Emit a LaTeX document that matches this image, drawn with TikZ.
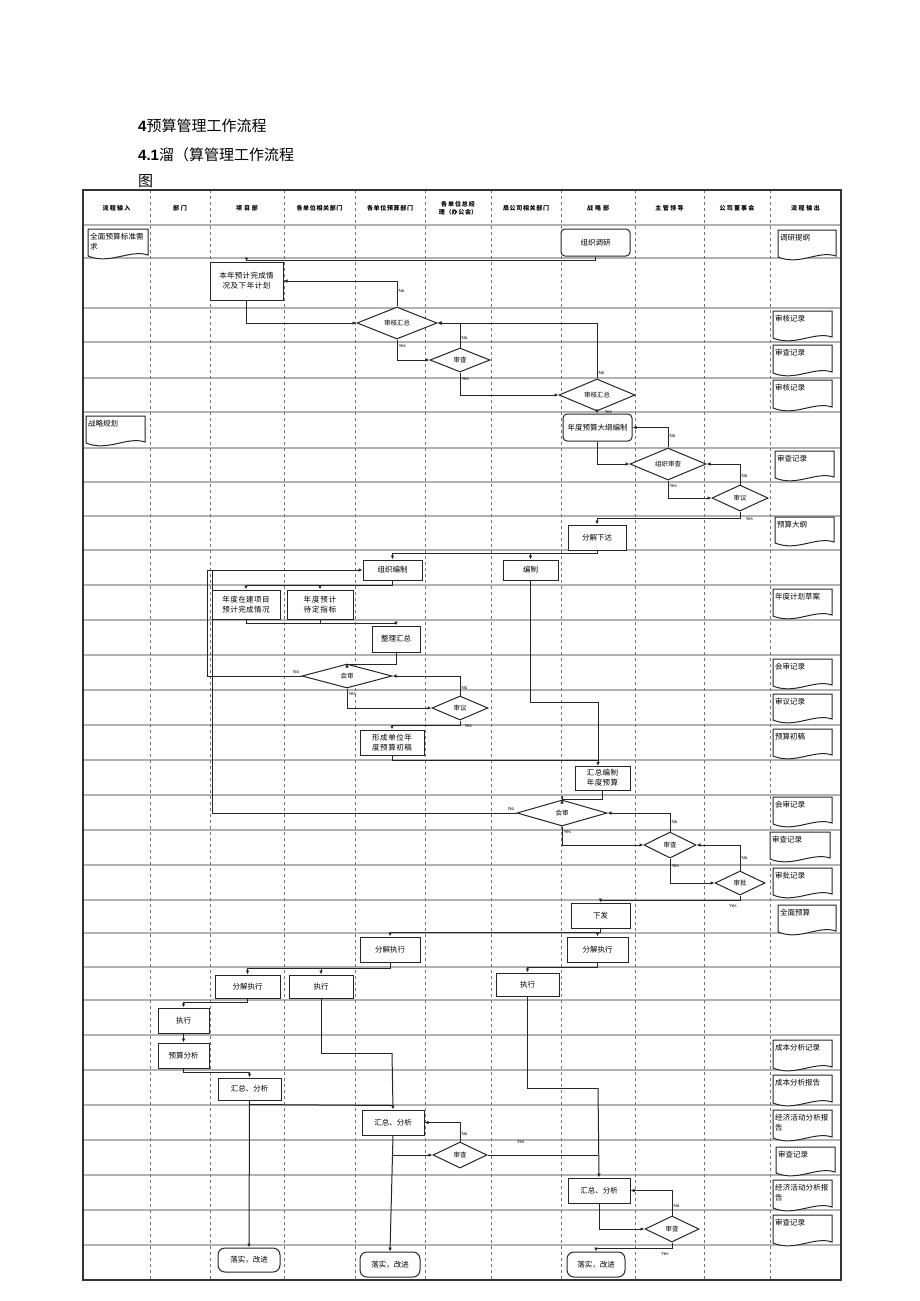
\documentclass[tikz,border=0pt]{standalone}
\usepackage{fontspec}
\setmainfont{Liberation Sans}
\newfontfamily\cjk{Noto Sans CJK SC}
\XeTeXlinebreaklocale "zh"
\XeTeXlinebreakskip=0pt plus 1pt
\usetikzlibrary{shapes.geometric,arrows.meta}
\tikzset{
 grid/.style={draw=black!30,line width=1.3pt},
 vgrid/.style={draw=black!55,dashed,line width=0.6pt},
 box/.style={draw=black!85,line width=1pt,fill=white,font=\cjk\fontsize{7.5}{10}\selectfont,align=center,inner sep=1pt},
 rbox/.style={box,rounded corners=4pt},
 dia/.style={draw=black!85,line width=1pt,fill=white,diamond,inner sep=0pt,font=\cjk\fontsize{6.5}{7}\selectfont},
 arr/.style={draw=black!85,line width=1pt,-{Latex[length=4pt,width=3.5pt]}},
 ln/.style={draw=black!85,line width=1pt},
 yn/.style={font=\fontsize{4.5}{5}\selectfont,inner sep=1pt},
 hd/.style={font=\cjk\bfseries\fontsize{6}{8}\selectfont,align=center},
 docst/.style={draw=black!85,line width=1pt,fill=white},
 doctext/.style={font=\cjk\fontsize{7.5}{10}\selectfont,align=left,inner sep=1pt},
}
\newcommand\docu[6]{%
 \draw[docst] (#2,#3) -- (#4,#3) -- (#4,#5-4) .. controls (#4-18,#5-10) and (#2+22,#5+6) .. (#2,#5-3) -- cycle;
 \pgfmathsetmacro\dw{#4-#2-4}%
 \node[doctext,anchor=north west,text width=\dw pt] (#1) at (#2+1,#3+3) {#6};}
\begin{document}
\begin{tikzpicture}[x=1pt,y=-1pt]
\useasboundingbox (0,0) rectangle (920,1301);
\fill[white] (0,0) rectangle (920,1301);
% title
\node[anchor=west,inner sep=0] (t1) at (138,126) {\fontsize{15}{18}\selectfont\bfseries 4\cjk\mdseries 预算管理工作流程};
\node[anchor=west,inner sep=0] (t2) at (138,155) {\fontsize{15}{18}\selectfont\bfseries 4.1\cjk\mdseries 溜（算管理工作流程};
\node[anchor=west,inner sep=0] (t3) at (138,181) {\fontsize{15}{18}\selectfont\cjk 图};
% grid
\foreach \y in {225,258,308,342,378,412,448,482,516,550,585,620,655,690,725,760,795,830,865,900,933,967,1000,1035,1070,1105,1140,1175,1210,1245}
  \draw[grid] (83,\y) -- (841,\y);
\foreach \x in {150,210,284,355,425,491,561,635,704,770}
  \draw[vgrid] (\x,190) -- (\x,1280);
\draw[black!80,line width=1.3pt] (83,190) rectangle (841,1280);
% headers
\foreach \x/\t/\w [count=\i] in {116.5/流程输入/60,180/部门/56,247/项目部/70,319.5/各单位相关部门/62,390/各单位预算部门/62,458/各单位总经理（办公会）/56,526/局公司相关部门/62,598/战略部/70,669.5/主管领导/64,737/公司董事会/62,805.5/流程输出/66}
  \node[hd,text width=\w pt] (h\i) at (\x,208) {\t};
% documents
\docu{in1}{88}{229}{148}{259}{全面预算标准需求}
\docu{in2}{86}{416}{145}{446}{战略规划}
\docu{o1}{778}{230}{836}{260}{调研提纲}
\docu{o2}{773}{311}{832}{341}{审核记录}
\docu{o3}{773}{345}{832}{376}{审查记录}
\docu{o4}{773}{380}{832}{411}{审核记录}
\docu{o5}{775}{451}{834}{481}{审查记录}
\docu{o6}{775}{517}{834}{546}{预算大纲}
\docu{o7}{773}{589}{832}{619}{年度计划草案}
\docu{o8}{773}{659}{832}{689}{会审记录}
\docu{o9}{773}{694}{832}{723}{审议记录}
\docu{o10}{773}{729}{832}{759}{预算初稿}
\docu{o11}{773}{797}{832}{827}{会审记录}
\docu{o12}{770}{832}{830}{862}{审查记录}
\docu{o13}{773}{868}{832}{898}{审批记录}
\docu{o14}{778}{905}{836}{935}{全面预算}
\docu{o15}{773}{1040}{832}{1071}{成本分析记录}
\docu{o16}{773}{1075}{832}{1106}{成本分析报告}
\docu{o17}{773}{1110}{832}{1141}{经济活动分析报告}
\docu{o18}{776}{1147}{835}{1176}{审查记录}
\docu{o19}{773}{1180}{832}{1211}{经济活动分析报告}
\docu{o20}{773}{1215}{832}{1246}{审查记录}
% nodes
\node[rbox,minimum width=69,minimum height=27] (zy) at (595.5,242.5) {组织调研};
\node[box,minimum width=73,minimum height=38,text width=64pt] (b1) at (246.5,281) {本年预计完成情况及下年计划};
\node[dia,minimum width=80,minimum height=24] (d1) at (397,323) {审核汇总};
\node[dia,minimum width=60,minimum height=24] (d2) at (460,360) {审查};
\node[dia,minimum width=76,minimum height=26] (d3) at (597,395) {审核汇总};
\node[rbox,minimum width=69,minimum height=27,text width=60pt] (dg) at (597.5,427.5) {年度预算大纲编制};
\node[dia,minimum width=76,minimum height=24] (d4) at (668,464) {组织审查};
\node[dia,minimum width=56,minimum height=26] (d5) at (740,498) {审议};
\node[box,minimum width=58,minimum height=25] (fx) at (597,537.5) {分解下达};
\node[box,minimum width=59,minimum height=20] (zb) at (392.5,570) {组织编制};
\node[box,minimum width=55,minimum height=20] (bz) at (530.5,570) {编制};
\node[box,minimum width=68,minimum height=29,text width=62pt] (na) at (246,604.5) {年度在建项目预计完成情况};
\node[box,minimum width=66,minimum height=29,text width=58pt] (nb) at (320,604.5) {年度预计待定指标};
\node[box,minimum width=48,minimum height=26] (zl) at (396,639) {整理汇总};
\node[dia,minimum width=90,minimum height=24] (d6) at (347,676) {会审};
\node[dia,minimum width=56,minimum height=24] (d7) at (460,708) {审议};
\node[box,minimum width=64,minimum height=25,text width=56pt] (xc) at (392,742.5) {形成单位年度预算初稿};
\node[box,minimum width=55,minimum height=24,text width=46pt] (hz) at (602.5,778) {汇总编制年度预算};
\node[dia,minimum width=90,minimum height=26] (d8) at (562,813) {会审};
\node[dia,minimum width=52,minimum height=26] (d9) at (670,845) {审查};
\node[dia,minimum width=50,minimum height=24] (d10) at (740,883) {审批};
\node[box,minimum width=59,minimum height=25] (xf) at (600.5,915.5) {下发};
\node[box,minimum width=60,minimum height=25] (f1) at (390,949.5) {分解执行};
\node[box,minimum width=61,minimum height=25] (f2) at (597.5,949.5) {分解执行};
\node[box,minimum width=65,minimum height=23] (fa) at (247.5,986.5) {分解执行};
\node[box,minimum width=64,minimum height=23] (zxb) at (321,986.5) {执行};
\node[box,minimum width=63,minimum height=23] (zxc) at (527.5,984.5) {执行};
\node[box,minimum width=51,minimum height=25] (zxa) at (183.5,1020.5) {执行};
\node[box,minimum width=51,minimum height=25] (ys) at (183.5,1055.5) {预算分析};
\node[box,minimum width=63,minimum height=22] (ha) at (249.5,1089) {汇总、分析};
\node[box,minimum width=62,minimum height=25] (hb) at (393,1122.5) {汇总、分析};
\node[dia,minimum width=54,minimum height=26] (d11) at (460,1155) {审查};
\node[box,minimum width=62,minimum height=25] (hc) at (599,1190.5) {汇总、分析};
\node[dia,minimum width=54,minimum height=26] (d12) at (672,1229) {审查};
\node[rbox,minimum width=62,minimum height=24,rounded corners=7pt] (la) at (249,1260) {落实，改进};
\node[rbox,minimum width=60,minimum height=25,rounded corners=7pt] (lb) at (390,1264.5) {落实，改进};
\node[rbox,minimum width=58,minimum height=25,rounded corners=7pt] (lc) at (596,1264.5) {落实，改进};
% connectors
\draw[arr] (zy.south) -- ++(0,4) -| (b1.north);
\draw[arr] (b1.south) |- (d1.west);
\draw[arr] (d1.north) |- (b1.east) node[yn,pos=0.3,right] {No};
\draw[arr] (d1.south) |- (d2.west) node[yn,pos=0.15,right] {Yes};
\draw[arr] (d2.north) |- (d1.east) node[yn,pos=0.2,right] {No};
\draw[arr] (d2.south) |- (d3.west) node[yn,pos=0.15,right] {Yes};
\draw[arr] (d3.north) |- (d1.east) node[yn,pos=0.05,right] {No};
\draw[arr] (d3.south) -- (dg.north) node[yn,pos=0.2,right=6pt] {Yes};
\draw[arr] (dg.south) |- (d4.west);
\draw[arr] (d4.north) |- (dg.east) node[yn,pos=0.3,right] {No};
\draw[arr] (d4.south) |- (d5.west) node[yn,pos=0.15,right] {Yes};
\draw[arr] (d5.north) |- (d4.east) node[yn,pos=0.2,right] {No};
\draw[arr] (d5.south) -- ++(0,7) node[yn,right=4pt] {Yes} -| (fx.north);
\draw[arr] (fx.south) -- ++(0,3) -| (zb.north);
\draw[arr] (fx.south) -- ++(0,3) -| (bz.north);
\draw[arr] (zb.south) -- ++(0,5) -| (na.north);
\draw[arr] (zb.south) -- ++(0,5) -| (nb.north);
\draw[ln] (na.south) |- (396,623);
\draw[arr] (nb.south) |- (396,623) -- (zl.north);
\draw[arr] (zl.south) -- ++(0,12) -| (d6.north);
\draw[arr] (d6.west) node[yn,above left=1pt] {No} -| (207,570) -- (zb.west);
\draw[ln] (d8.west) node[yn,above left=1pt] {No} -| (212,570);
\draw[arr] (d6.south) |- (d7.west) node[yn,pos=0.15,right] {Yes};
\draw[arr] (d7.north) |- (d6.east) node[yn,pos=0.2,right] {No};
\draw[arr] (d7.south) -- ++(0,5) node[yn,right=3pt] {Yes} -| (xc.north);
\draw[ln] (bz.south) |- (598,702);
\draw[arr] (xc.south) |- (598,760) -- (598,766);
\draw[ln] (598,702) -- (598,760);
\draw[arr] (hz.south) -- ++(0,9) -| (d8.north);
\draw[arr] (d8.south) |- (d9.west) node[yn,pos=0.15,right] {Yes};
\draw[arr] (d9.north) |- (d8.east) node[yn,pos=0.25,right] {No};
\draw[arr] (d9.south) |- (d10.west) node[yn,pos=0.15,right] {Yes};
\draw[arr] (d10.north) |- (d9.east) node[yn,pos=0.25,right] {No};
\draw[arr] (d10.south) -- ++(0,5) node[yn,below left=2pt] {Yes} -| (xf.north);
\draw[arr] (xf.south) -- ++(0,4) -| (f1.north);
\draw[arr] (xf.south) -- ++(0,4) -| (f2.north);
\draw[arr] (f1.south) -- ++(0,6) -| (fa.north);
\draw[arr] (f1.south) -- ++(0,6) -| (zxb.north);
\draw[arr] (f2.south) -- ++(0,5) -| (zxc.north);
\draw[arr] (fa.south) -- ++(0,4) -| (zxa.north);
\draw[arr] (zxa.south) -- (ys.north);
\draw[arr] (ys.south) -- ++(0,4) -| (ha.north);
\draw[ln] (zxb.south) |- (392,1053);
\draw[arr] (392,1053) -- (hb.north);
\draw[ln] (ha.south) ++(0,4) -- (392,1105.5);
\draw[arr] (ha.south) -- (la.north);
\draw[arr] (hb.south) -- (lb.north);
\draw[arr] (392,1155) -- (d11.west);
\draw[arr] (d11.north) |- (hb.east) node[yn,pos=0.2,right] {No};
\draw[ln] (d11.east) -- (598,1155) node[yn,pos=0.3,above=10pt] {Yes};
\draw[ln] (zxc.south) |- (598,1088);
\draw[arr] (598,1088) -- (hc.north);
\draw[arr] (hc.south) |- (d12.west);
\draw[arr] (d12.north) |- (hc.east) node[yn,pos=0.2,right] {No};
\draw[arr] (d12.south) -- ++(0,6) node[yn,below left=2pt] {Yes} -| (lc.north);
\end{tikzpicture}
\end{document}
